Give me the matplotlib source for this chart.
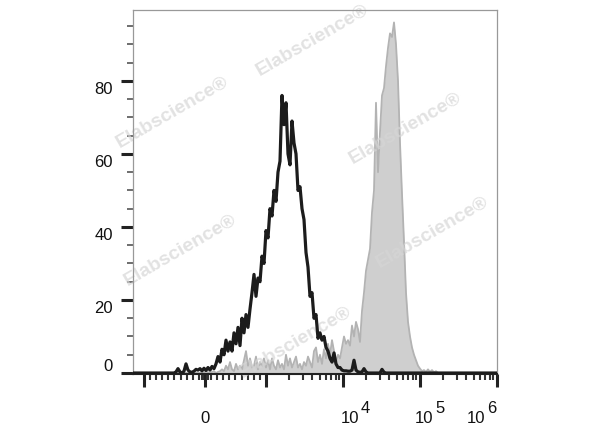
import numpy as np
import matplotlib
matplotlib.use('Agg')
import matplotlib.pyplot as plt
from matplotlib.scale import SymmetricalLogTransform
from matplotlib import transforms

plt.rcParams['font.family'] = ['Liberation Sans', 'DejaVu Sans']

# event counts per display channel (182 channels across the axis)
n_channels = 182
black_start = 21
black_counts = [
    0.3, 1.2, 0.3, 0.0, 0.5, 2.5, 0.8, 0.3, 0.2, 0.5,
    1.0, 0.8, 1.2, 0.6, 1.3, 0.7, 1.5, 0.8, 1.8, 1.2,
    2.5, 4.5, 3.0, 6.5, 5.0, 9.0, 6.0, 8.5, 6.0, 11.0,
    8.0, 12.5, 7.5, 15.0, 11.0, 16.0, 12.5, 17.5, 22.0, 27.0,
    21.0, 26.0, 25.0, 32.0, 30.0, 39.0, 37.0, 45.0, 43.0, 50.0,
    47.0, 55.0, 58.0, 76.0, 68.0, 74.0, 60.0, 57.0, 69.0, 63.0,
    60.0, 50.0, 51.0, 45.0, 42.0, 33.0, 29.0, 21.0, 22.0, 15.0,
    16.0, 9.5, 11.0, 9.0, 10.0, 7.0, 6.0, 4.0, 3.0, 5.5,
    2.5, 1.5, 1.5, 0.8, 0.6, 0.6, 0.5, 0.5, 0.8, 3.5,
    0.8, 0.3, 0.2, 0.3, 1.2, 0.3, 0.0, 0.0, 0.0, 0.0,
    0.0, 0.0, 0.0, 1.0, 0.2,
]
grey_start = 33
grey_counts = [
    0.0, 0.3, 0.0, 0.5, 0.2, 0.0, 0.3, 0.5, 0.0, 0.3,
    0.5, 1.0, 0.5, 2.0, 1.0, 3.0, 1.0, 0.5, 2.5, 1.0,
    2.0, 1.0, 3.5, 6.0, 2.0, 4.0, 1.5, 2.0, 4.5, 1.0,
    3.0, 2.0, 4.0, 1.5, 3.5, 1.0, 4.0, 2.0, 1.0, 3.5,
    1.5, 2.5, 1.0, 5.0, 2.0, 4.0, 1.5, 3.0, 4.5, 1.5,
    2.5, 1.0, 3.0, 2.0, 4.5, 3.0, 1.5, 6.0, 7.0, 3.0,
    5.0, 2.5, 6.5, 4.0, 8.0, 5.0, 9.0, 6.0, 3.0, 5.0,
    4.0, 7.0, 10.0, 8.0, 9.0, 7.5, 13.0, 10.0, 14.0, 12.0,
    8.5, 17.0, 22.0, 28.0, 31.0, 34.0, 44.0, 50.0, 74.0, 55.0,
    66.0, 76.0, 78.0, 84.0, 89.0, 93.0, 92.0, 96.0, 90.0, 80.0,
    63.0, 49.0, 36.0, 22.0, 14.0, 10.0, 7.0, 5.0, 3.5, 2.0,
    1.2, 0.5, 0.8, 0.3, 1.0, 0.3, 0.8, 0.2, 0.5,
]

y_ticks = [0, 20, 40, 60, 80]
x_label_vals = [1e4, 1e5, 1e6]
x_label_exps = ['4', '5', '6']
watermark = 'Elabscience®'

# axis scale (biexponential-like display, approximated with symlog)
linthresh, linscale = 1000, 0.713
xmin, xmax = -1389, 1e6

tr = SymmetricalLogTransform(10, linthresh, linscale)
t_lo, t_hi = tr.transform_non_affine(np.array([xmin, xmax]))
t_edges = np.linspace(t_lo, t_hi, n_channels + 1)
centers = tr.inverted().transform_non_affine((t_edges[:-1] + t_edges[1:]) / 2)

black = np.zeros(n_channels)
black[black_start:black_start + len(black_counts)] = black_counts
grey = np.zeros(n_channels)
grey[grey_start:grey_start + len(grey_counts)] = grey_counts

fig = plt.figure(figsize=(6, 4.27), dpi=100)
ax = fig.add_axes([133 / 600, 52 / 427, 364 / 600, 364 / 427])
ax.set_xscale('symlog', linthresh=linthresh, linscale=linscale)

ax.fill_between(centers, grey, 0, color='#cfcfcf', lw=0, zorder=2)
ax.plot(centers, grey, color='#b3b3b3', lw=1.3, zorder=2.2)
ax.plot(centers, black, color='#1c1c1c', lw=2.3, zorder=3)

ax.set_xlim(xmin, xmax)
ax.set_ylim(-0.27, 99.4)

# ticks
major_x = [-1000, 0, 1000, 1e4, 1e5, 1e6]
minor_x = [v for v in range(-900, 1000, 100) if v != 0] + [-50, -25, 25, 50]
for dec in [1e3, 1e4, 1e5]:
    minor_x += [m * dec for m in range(2, 10)]
ax.set_xticks(major_x, labels=[''] * len(major_x))
ax.set_xticks(minor_x, minor=True)
ax.set_yticks(y_ticks, labels=[''] * len(y_ticks))
ax.set_yticks(np.arange(5, 100, 5), minor=True)

ax.tick_params(axis='both', which='major', length=9, width=2.2, color='#222222', direction='out')
ax.tick_params(axis='both', which='minor', length=4.5, width=1.5, color='#333333', direction='out')
ax.tick_params(axis='y', which='minor', width=1.2, color='#555555')

for side in ['top', 'right', 'left']:
    ax.spines[side].set_color('#999999')
    ax.spines[side].set_linewidth(0.9)
ax.spines['bottom'].set_color('#222222')
ax.spines['bottom'].set_linewidth(1.5)

# y tick labels, hanging below their ticks like the original
ytrans = transforms.offset_copy(transforms.blended_transform_factory(ax.transAxes, ax.transData),
                                fig=fig, x=-20, y=0, units='dots')
for v in y_ticks:
    ax.text(0, v, str(v), transform=ytrans, ha='right', va='bottom' if v == 0 else 'top',
            fontsize=12, color='#111111', clip_on=False)

# x tick labels
xtrans = transforms.blended_transform_factory(ax.transData, ax.transAxes)
ax.text(0, -0.132, '0', transform=xtrans, ha='center', va='baseline', fontsize=12,
        color='#111111', clip_on=False)
label_shift = [-2, -5, -30]
for v, e, dx in zip(x_label_vals, x_label_exps, label_shift):
    base_tr = transforms.offset_copy(xtrans, fig=fig, x=dx, y=0, units='dots')
    exp_tr = transforms.offset_copy(xtrans, fig=fig, x=dx + 20, y=10, units='dots')
    ax.text(v, -0.132, '10', transform=base_tr, ha='left', va='baseline', fontsize=12,
            color='#111111', clip_on=False)
    ax.text(v, -0.132, e, transform=exp_tr, ha='left', va='baseline', fontsize=12,
            color='#111111', clip_on=False)

# watermark
for (px, py) in [(312, 40), (172, 112), (405, 128), (432, 232), (180, 250), (295, 342)]:
    ax.text(px / 600, 1 - py / 427, watermark, transform=fig.transFigure, rotation=30,
            ha='center', va='center', fontsize=14, fontweight='bold', color='#d6d6d6',
            alpha=0.7, zorder=2.5, clip_on=False)

fig.savefig('out.png', dpi=100)
